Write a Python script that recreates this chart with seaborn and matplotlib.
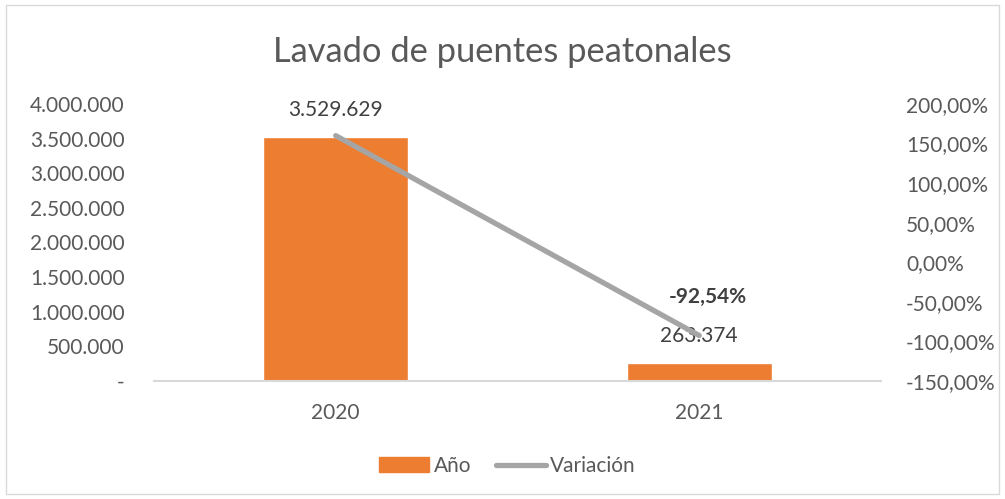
import matplotlib
matplotlib.use("Agg")
import matplotlib.pyplot as plt
import matplotlib.ticker as mticker
from matplotlib.patches import Patch, Rectangle
from matplotlib.lines import Line2D
import pandas as pd
import seaborn as sns

# Datos
years = ["2020", "2021"]
cantidad = [3529629, 263374]
variacion = [160.0, -92.54]
bar_labels = ["3.529.629", "263.374"]
var_labels = ["", "-92,54%"]

orange = "#ED7D31"
gray_line = "#A5A5A5"
txt = "#595959"

sns.set_theme(style="white")
plt.rcParams["font.family"] = ["Lato", "DejaVu Sans"]

df = pd.DataFrame({"year": years, "cantidad": cantidad, "variacion": variacion})

fig = plt.figure(figsize=(10.05, 4.99), dpi=100)
ax = fig.add_axes([0.1532, 0.2365, 0.7234, 0.5551])

sns.barplot(data=df, x="year", y="cantidad", color=orange, width=0.4,
            saturation=1, ax=ax)
ax.set_ylim(0, 4000000)
ax.set_xlim(-0.5, 1.5)
ax.yaxis.set_major_locator(mticker.MultipleLocator(500000))
ax.yaxis.set_major_formatter(mticker.FuncFormatter(
    lambda v, p: "-" if v == 0 else f"{int(v):,}".replace(",", ".")))

ax2 = ax.twinx()
sns.lineplot(x=[0, 1], y=df["variacion"], color=gray_line, linewidth=3.8,
             ax=ax2, solid_capstyle="round")
ax2.set_ylim(-150, 200)
ax2.yaxis.set_major_locator(mticker.MultipleLocator(50))
ax2.yaxis.set_major_formatter(mticker.FuncFormatter(
    lambda v, p: f"{v:.2f}".replace(".", ",") + "%"))

for a in (ax, ax2):
    for s in a.spines.values():
        s.set_visible(False)
    a.set_xlabel("")
    a.set_ylabel("")
    a.tick_params(length=0, labelsize=15, labelcolor=txt)
ax.tick_params(axis="x", pad=16)
ax.tick_params(axis="y", pad=21)
ax2.tick_params(axis="y", pad=18)
ax.spines["bottom"].set_visible(True)
ax.spines["bottom"].set_color("#D9D9D9")
ax.spines["bottom"].set_linewidth(1.5)

# etiquetas de datos
for i, (v, lab) in enumerate(zip(cantidad, bar_labels)):
    ax.annotate(lab, (i, v), xytext=(0, 19), textcoords="offset points",
                ha="center", va="center", fontsize=15, color="#404040")
ax2.annotate(var_labels[1], (1, variacion[1]), xytext=(6, 28),
             textcoords="offset points", ha="center", va="center",
             fontsize=15, fontweight="bold", color="#404040")

fig.suptitle("Lavado de puentes peatonales", y=0.928, fontsize=24.8, color=txt)

handles = [Patch(color=orange), Line2D([0], [0], color=gray_line, linewidth=3.8,
                                       solid_capstyle="round")]
fig.legend(handles, ["Año", "Variación"], loc="center", bbox_to_anchor=(0.505, 0.066),
           ncol=2, frameon=False, fontsize=15, labelcolor=txt,
           handlelength=2.4, handletextpad=0.2, columnspacing=1.2)

fig.patches.append(Rectangle((0.006, 0.01), 0.988, 0.98, transform=fig.transFigure,
                             fill=False, edgecolor="#D9D9D9", linewidth=1))

fig.savefig("out.png", dpi=100)
